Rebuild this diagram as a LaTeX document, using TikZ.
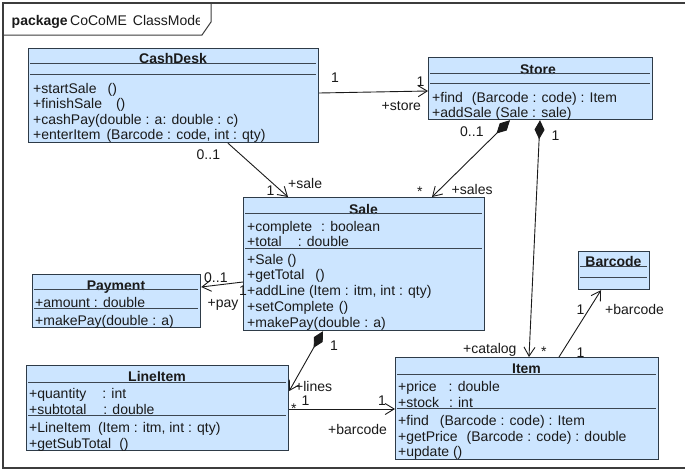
\documentclass[tikz,border=0pt]{standalone}
\usepackage{fontspec}
\setmainfont{Liberation Sans}
\usetikzlibrary{arrows.meta}
\definecolor{clsfill}{HTML}{CCE5FF}
\definecolor{clsline}{HTML}{2E3B48}
\definecolor{seprule}{HTML}{3C4650}
\definecolor{ink}{HTML}{1A1A1A}
\begin{document}
\begin{tikzpicture}[x=1pt,y=-1pt,
  font=\fontsize{14}{16}\selectfont,
  cls/.style={draw=clsline, fill=clsfill, line width=1.2pt, inner sep=0pt, anchor=north west},
  row/.style={anchor=base west, inner sep=0pt, text=ink},
  ttl/.style={anchor=base, inner sep=0pt, text=ink, font=\fontsize{14}{16}\selectfont\bfseries},
  sep/.style={draw=seprule, line width=1pt},
  frame/.style={draw=ink!85, line width=1.6pt},
  assoc/.style={draw=ink, line width=0.9pt, -{Straight Barb[length=9pt,width=11pt]}},
  comp/.style={draw=ink, line width=0.9pt, {Diamond[length=19pt,width=10pt]}-{Straight Barb[length=9pt,width=11pt]}}
]
\useasboundingbox (0,0) rectangle (685,471);
\fill[white] (0,0) rectangle (685,471);

% package frame with its name tab
\draw[frame] (692,3) -- (3,3) -- (3,468) -- (692,468);
\draw[draw=ink!85, line width=1pt] (3,35) -- (202,35) -- (211,22) -- (211,3);
\begin{scope}
  \clip (4,4) rectangle (199,34);
  \node[row, font=\fontsize{14}{16}\selectfont\bfseries] (pkgkw) at (11.5,25) {package};
  \node[row] (pkgname) at (70,25) {CoCoME\hspace{6pt}ClassModel};
\end{scope}

% ---- CashDesk
\node[cls, minimum width=290pt, minimum height=94pt] (cashdesk) at (28,48) {};
\node[ttl] (cdT) at (173,63.5) {CashDesk};
\draw[sep] (30,63) -- (316,63);
\draw[sep] (30,74) -- (316,74);
\node[row] (cd1) at (33,93) {+startSale\hspace{11pt}()};
\node[row] (cd2) at (33,108.5) {+finishSale\hspace{14pt}()};
\node[row] (cd3) at (33,124) {+cashPay(double : a: double : c)};
\node[row] (cd4) at (33,139.5) {+enterItem\hspace{6pt}(Barcode : code, int : qty)};

% ---- Store
\node[cls, minimum width=224pt, minimum height=62pt] (store) at (428,57) {};
\node[ttl] (stT) at (538,74.5) {Store};
\draw[sep] (430,73) -- (650,73);
\draw[sep] (430,83) -- (650,83);
\node[row] (st1) at (432,102.5) {+find\hspace{9pt}(Barcode : code) : Item};
\node[row] (st2) at (432,117) {+addSale (Sale : sale)};

% ---- Sale
\node[cls, minimum width=241pt, minimum height=133pt] (sale) at (243,197) {};
\node[ttl] (saT) at (363.5,214.5) {Sale};
\draw[sep] (245,213) -- (482,213);
\draw[sep] (245,248) -- (482,248);
\node[row] (sa1) at (247,231) {+complete\hspace{9pt}: boolean};
\node[row] (sa2) at (247,246.5) {+total\hspace{16pt}: double};
\node[row] (sa3) at (247,264) {+Sale ()};
\node[row] (sa4) at (247,279.5) {+getTotal\hspace{11pt}()};
\node[row] (sa5) at (247,295) {+addLine (Item : itm, int : qty)};
\node[row] (sa6) at (247,311) {+setComplete\hspace{5pt}()};
\node[row] (sa7) at (247,327) {+makePay(double : a)};

% ---- Payment
\node[cls, minimum width=168pt, minimum height=53pt] (payment) at (32,274) {};
\node[ttl] (paT) at (116,290.5) {Payment};
\draw[sep] (34,289) -- (198,289);
\draw[sep] (34,308) -- (198,308);
\node[row] (pa1) at (35,307) {+amount : double};
\node[row] (pa2) at (35,325.5) {+makePay(double : a)};

% ---- LineItem
\node[cls, minimum width=262pt, minimum height=85pt] (lineitem) at (26,365) {};
\node[ttl] (liT) at (157,381.5) {LineItem};
\draw[sep] (28,382) -- (286,382);
\draw[sep] (28,415) -- (286,415);
\node[row] (li1) at (29,398) {+quantity\hspace{16pt}: int};
\node[row] (li2) at (29,414) {+subtotal\hspace{17pt}: double};
\node[row] (li3) at (29,432.5) {+LineItem\hspace{7pt}(Item : itm, int : qty)};
\node[row] (li4) at (29,448) {+getSubTotal\hspace{8pt}()};

% ---- Item
\node[cls, minimum width=263pt, minimum height=102pt] (item) at (395,357) {};
\node[ttl] (itT) at (526.5,373.5) {Item};
\draw[sep] (397,374) -- (656,374);
\draw[sep] (397,408) -- (656,408);
\node[row] (it1) at (398,391.5) {+price\hspace{12pt}: double};
\node[row] (it2) at (398,407) {+stock\hspace{10pt}: int};
\node[row] (it3) at (398,425.5) {+find\hspace{11pt}(Barcode : code) : Item};
\node[row] (it4) at (398,441) {+getPrice\hspace{9pt}(Barcode : code) : double};
\node[row] (it5) at (398,456.5) {+update ()};

% ---- Barcode
\node[cls, minimum width=71pt, minimum height=38pt] (barcode) at (578,251) {};
\node[ttl] (bcT) at (613.5,266.5) {Barcode};
\draw[sep] (580,266) -- (647,266);
\draw[sep] (580,277) -- (647,277);

% ---- associations
\draw[assoc] ([yshift=-45pt]cashdesk.north east) -- ([yshift=-34pt]store.north west);
\draw[assoc] ([xshift=200pt]cashdesk.south west) -- ([xshift=45pt]sale.north west);
\draw[comp] ([xshift=82pt]store.south west) -- ([xshift=189pt]sale.north west);
\draw[comp] ([xshift=112pt]store.south west) -- ([xshift=134pt]item.north west);
\draw[assoc] ([yshift=-85pt]sale.north west) -- ([yshift=-13pt]payment.north east);
\draw[comp] ([xshift=80pt]sale.south west) -- ([yshift=-26pt]lineitem.north east);
\draw[assoc] ([yshift=-44pt]lineitem.north east) -- ([yshift=-52pt]item.north west);
\draw[assoc] ([xshift=164pt]item.north west) -- ([xshift=23pt]barcode.south west);

% ---- association end labels
\node[row] (l1) at (331,82) {1};
\node[row] (l2) at (416.5,86) {1};
\node[row] (l3) at (381.5,110.5) {+store};
\node[row] (l4) at (460,136) {0..1};
\node[row] (l5) at (551.5,140) {1};
\node[row] (l6) at (417,196) {*};
\node[row] (l7) at (451.5,194) {+sales};
\node[row] (l8) at (196.5,159) {0..1};
\node[row] (l9) at (266.5,195) {1};
\node[row] (l10) at (288,188) {+sale};
\node[row] (l11) at (204,282.5) {0..1};
\node[row] (l12) at (239,295) {1};
\node[row] (l13) at (207.5,307) {+pay};
\node[row] (l14) at (330,350) {1};
\node[row] (l15) at (295,391) {+lines};
\node[row] (l16) at (301.5,405) {1};
\node[row] (l17) at (291,413) {*};
\node[row] (l18) at (378,405) {1};
\node[row] (l19) at (328,434) {+barcode};
\node[row] (l20) at (463,353.5) {+catalog};
\node[row] (l21) at (541,356) {*};
\node[row] (l22) at (576.5,357) {1};
\node[row] (l23) at (576.5,314) {1};
\node[row] (l24) at (605,314) {+barcode};
\end{tikzpicture}
\end{document}
